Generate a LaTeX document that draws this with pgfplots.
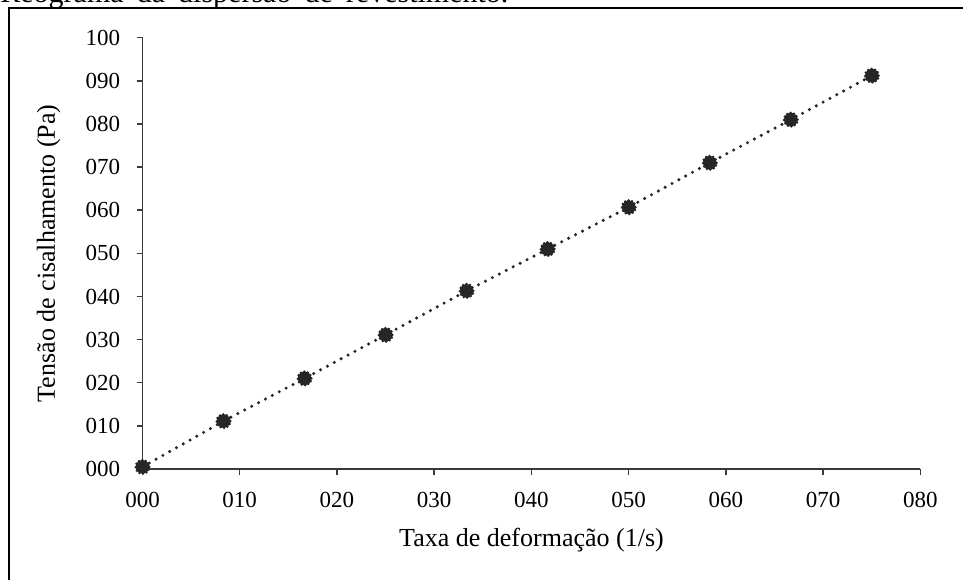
\documentclass[border=0pt]{standalone}
\usepackage{fontspec}
\setmainfont{Liberation Serif}
\usepackage{pgfplots}
\pgfplotsset{compat=1.18}
\definecolor{ser}{HTML}{262626}
\definecolor{axc}{HTML}{3A3A3A}
\begin{document}
\begin{tikzpicture}
\path[use as bounding box, clip] (0,0) rectangle (481.5pt,289.5pt);
\draw[line width=0.8pt, black] (4.5pt,-5pt) -- (4.5pt,285.5pt) -- (490pt,285.5pt);
\node[anchor=base west, font=\fontsize{15}{17}\selectfont, inner sep=0pt] at (0pt,288pt) {\makebox[254pt][s]{Reograma da dispersão de revestimento.}};
\begin{axis}[
  at={(71.25pt,55pt)}, anchor=south west,
  scale only axis, width=389pt, height=215.65pt,
  xmin=0, xmax=80, ymin=0, ymax=100,
  axis x line*=bottom, axis y line*=left,
  xtick={0,10,...,80}, xticklabels={000,010,020,030,040,050,060,070,080},
  ytick={0,10,...,100}, yticklabels={000,010,020,030,040,050,060,070,080,090,100},
  tick align=outside, major tick length=3pt,
  tick style={axc, line width=0.75pt},
  axis line style={axc, line width=0.75pt},
  ticklabel style={font=\fontsize{11.5}{13}\selectfont, inner sep=0pt},
  yticklabel style={anchor=east, xshift=-8pt},
  xticklabel style={anchor=north, yshift=-8.5pt},
  /pgf/number format/assume math mode=true,
  xlabel={Taxa de deformação (1/s)},
  ylabel={Tensão de cisalhamento (Pa)},
  label style={font=\fontsize{13}{15}\selectfont, inner sep=0pt},
  xlabel style={at={(axis description cs:0.5,-0.18)}, anchor=base},
  ylabel style={at={(axis description cs:-0.1125,0.5)}, anchor=base},
  clip=false,
]
\addplot[ser, line width=1.7pt, dash pattern=on 0pt off 3.9pt, line cap=round,
  mark=*, mark size=3.4pt,
  mark options={fill=ser, draw=ser, line width=1.4pt, dash pattern=on 0pt off 1.8pt, line cap=round}]
  coordinates {
  (0,0.5) (8.333,11.1) (16.667,21.0) (25,31.1) (33.333,41.3)
  (41.667,51.0) (50,60.7) (58.333,71.0) (66.667,81.0) (75,91.2)
  };
\end{axis}
\end{tikzpicture}
\end{document}
